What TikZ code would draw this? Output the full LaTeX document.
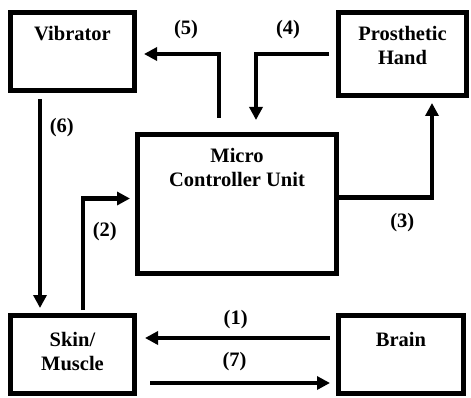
\documentclass[tikz,border=0pt]{standalone}
\usepackage{fontspec}
\setmainfont{Liberation Serif}
\usetikzlibrary{arrows.meta}

\begin{document}
\begin{tikzpicture}[
   x=1pt,y=1pt,
   font=\fontsize{20.5}{24}\selectfont\bfseries,
   box/.style ={draw,line width=5pt,anchor=north west,align=center,inner xsep=0pt,inner ysep=14pt,text height=14pt},
   fl/.style  ={-{Triangle[length=13pt,width=13pt]},line width=4.5pt},
   num/.style ={inner sep=6.67pt}
  ]
  \useasboundingbox (0,0) rectangle (471,397);

  % blocks
  \node[box,minimum width=124pt,text depth=36pt] (vib) at (8,387) {Vibrator};
  \node[box,minimum width=128pt,text height=38pt,text depth=17pt] (hand) at (336,387) {Prosthetic\\Hand};
  \node[box,minimum width=199pt,text height=38pt,text depth=73pt] (mcu) at (135,265) {Micro\\Controller Unit};
  \node[box,minimum width=124pt,text height=41pt,text depth=9pt] (skin) at (8,84) {Skin/\\Muscle};
  \node[box,minimum width=125pt,text height=17pt,text depth=33pt] (brain) at (336,84) {Brain};

  % signal paths
  \draw[fl] ([xshift=-6pt,yshift=16.5pt]brain.west) -- node[num,pos=0.51,above] (n1) {(1)} ([xshift=8pt,yshift=16.5pt]skin.east);
  \draw[fl] ([xshift=10.5pt,yshift=3pt]skin.north) |- node[num,pos=0.35,right=1pt] (n2) {(2)} ([xshift=-5pt,yshift=5.5pt]mcu.west);
  \draw[fl] ([yshift=6.5pt]mcu.east) -| node[num,pos=0.34,below=7pt] (n3) {(3)} ([xshift=29.5pt,yshift=-5pt]hand.south);
  \draw[fl] ([xshift=-7pt]hand.west) -| node[num,pos=0.28,above=6pt] (n4) {(4)} ([xshift=19pt,yshift=12pt]mcu.north);
  \draw[fl] ([xshift=-18pt,yshift=14pt]mcu.north) |- node[num,pos=0.72,above=6pt] (n5) {(5)} ([xshift=7pt,yshift=-2.5pt]vib.east);
  \draw[fl] ([xshift=-32.5pt,yshift=-6pt]vib.south) -- node[num,pos=0.135,right=1pt] (n6) {(6)} ([xshift=-32.5pt,yshift=5pt]skin.north);
  \draw[fl] ([xshift=13pt,yshift=-28.5pt]skin.east) -- node[num,pos=0.47,above=3pt] (n7) {(7)} ([xshift=-6pt,yshift=-28.5pt]brain.west);
\end{tikzpicture}
\end{document}
